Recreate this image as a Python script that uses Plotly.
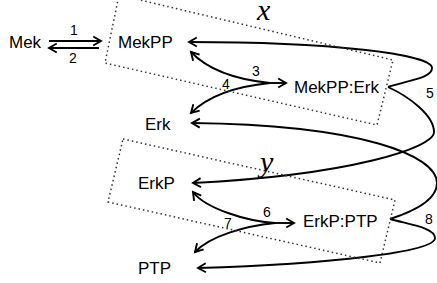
import math
import plotly.graph_objects as go

W, H = 437, 283

# ---- species (nodes) ----
node_names = ["Mek", "MekPP", "MekPP:Erk", "Erk", "ErkP", "ErkP:PTP", "PTP"]
node_x = [25, 145, 337, 158, 156, 340, 154]
node_y = [42, 42, 87, 124, 183, 221, 268]

# ---- reaction numbers ----
reaction_labels = ["1", "2", "3", "4", "5", "6", "7", "8"]
reaction_x = [74, 73, 256, 226, 430, 267, 228, 429]
reaction_y = [30, 58, 71, 84, 93, 212, 223, 219]

# ---- compartments (dotted boxes) ----
compartment_labels = ["x", "y"]
compartment_x = [263, 265]
compartment_y = [9, 161]
box_x = [[119, 393, 377, 105], [123, 395, 380, 108]]
box_y = [[-5, 60, 125, 63], [139, 200, 263, 202]]

# ---- edges: list of points (start, then cubic control triples); head at end ----
edges = [
    [(49, 41), (101, 41)],                                   # 1
    [(99, 48), (49, 48)],                                    # 2
    [(270, 83), (286, 83)],                                  # 3/4 shaft
    [(270, 83), (240, 80), (210, 72), (191, 52)],            # 3
    [(270, 83), (240, 86), (210, 94), (191, 113)],           # 4
    [(388, 87), (410, 80), (432, 78), (432, 68),
     (432, 54), (330, 42), (189, 42)],                       # 5 -> MekPP
    [(388, 87), (408, 96), (434, 115), (434, 132),
     (434, 148), (350, 175), (193, 183)],                    # 5 -> ErkP
    [(275, 223), (294, 223)],                                # 6/7 shaft
    [(275, 223), (245, 221), (205, 208), (193, 192)],        # 6
    [(275, 223), (245, 226), (210, 236), (195, 252)],        # 7
    [(390, 219), (415, 211), (437, 200), (437, 183),
     (437, 155), (360, 125), (192, 123)],                    # 8 -> Erk
    [(390, 219), (412, 225), (435, 228), (435, 238),
     (435, 252), (330, 264), (198, 268)],                    # 8 -> PTP
]

HEAD_LEN = 9
HEAD_ANG = math.radians(30)

shapes = []
for pts in edges:
    if len(pts) == 2:
        path = f"M {pts[0][0]},{pts[0][1]} L {pts[1][0]},{pts[1][1]}"
    else:
        path = f"M {pts[0][0]},{pts[0][1]}"
        for i in range(1, len(pts), 3):
            a, b, c = pts[i], pts[i + 1], pts[i + 2]
            path += f" C {a[0]},{a[1]} {b[0]},{b[1]} {c[0]},{c[1]}"
    shapes.append(dict(type="path", path=path, xref="x", yref="y",
                       line=dict(color="black", width=1.9)))
    tip = pts[-1]
    prev = pts[-2]
    ang = math.atan2(tip[1] - prev[1], tip[0] - prev[0])
    w1 = (tip[0] - HEAD_LEN * math.cos(ang - HEAD_ANG), tip[1] - HEAD_LEN * math.sin(ang - HEAD_ANG))
    w2 = (tip[0] - HEAD_LEN * math.cos(ang + HEAD_ANG), tip[1] - HEAD_LEN * math.sin(ang + HEAD_ANG))
    shapes.append(dict(type="path",
                       path=f"M {w1[0]:.2f},{w1[1]:.2f} L {tip[0]},{tip[1]} L {w2[0]:.2f},{w2[1]:.2f}",
                       xref="x", yref="y", line=dict(color="black", width=1.9)))

for bx, by in zip(box_x, box_y):
    path = "M " + " L ".join(f"{x},{y}" for x, y in zip(bx, by)) + " Z"
    shapes.append(dict(type="path", path=path, xref="x", yref="y",
                       line=dict(color="#333333", width=1.5, dash="1.5px,3px")))

annotations = []
for name, x, y in zip(node_names, node_x, node_y):
    annotations.append(dict(x=x, y=y, text=name, showarrow=False, xref="x", yref="y",
                            font=dict(family="Liberation Sans", size=17, color="black")))
for lab, x, y in zip(reaction_labels, reaction_x, reaction_y):
    annotations.append(dict(x=x, y=y, text=lab, showarrow=False, xref="x", yref="y",
                            font=dict(family="Liberation Sans", size=14, color="black")))
for lab, x, y in zip(compartment_labels, compartment_x, compartment_y):
    annotations.append(dict(x=x, y=y, text=f"<i>{lab}</i>", showarrow=False, xref="x", yref="y",
                            font=dict(family="Liberation Serif", size=30, color="black")))

fig = go.Figure()
fig.update_layout(
    width=W, height=H,
    margin=dict(l=0, r=0, t=0, b=0),
    paper_bgcolor="white", plot_bgcolor="white",
    xaxis=dict(range=[0, W], visible=False, fixedrange=True),
    yaxis=dict(range=[H, 0], visible=False, fixedrange=True),
    shapes=shapes, annotations=annotations, showlegend=False,
)
fig.write_html("out.html", config={"displayModeBar": False},
               post_script="document.body.style.margin='0';document.body.style.overflow='hidden';")
